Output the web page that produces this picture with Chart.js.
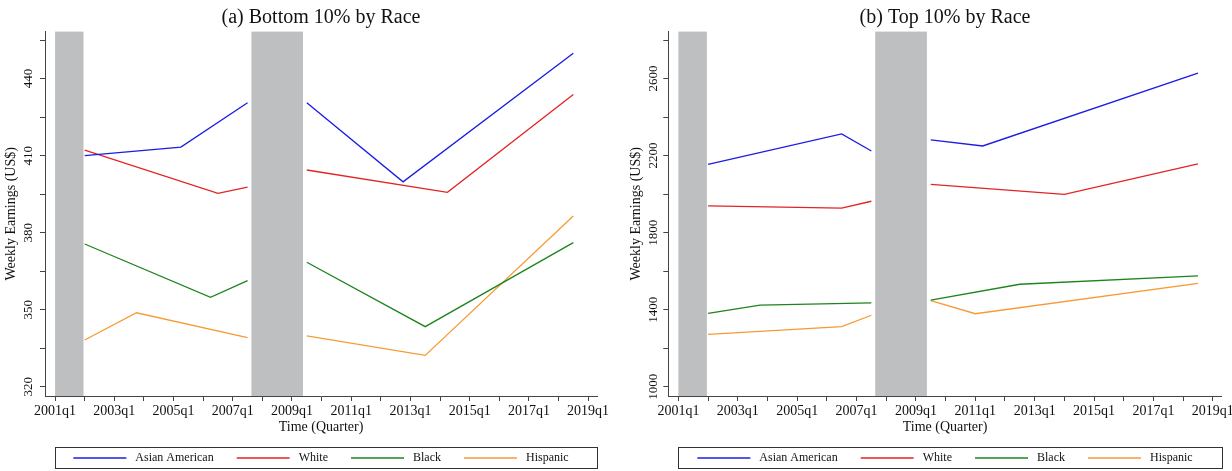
<!DOCTYPE html>
<html>
<head>
<meta charset="utf-8">
<script src="https://cdn.jsdelivr.net/npm/chart.js@4.4.1/dist/chart.umd.min.js"></script>
<style>
  html, body { margin: 0; padding: 0; background: #fff; overflow: hidden; width: 1232px; height: 471px; }
  canvas { position: absolute; top: 0; }
  #bottomChart { left: 0; }
  #topChart { left: 616px; }
</style>
</head>
<body>
<canvas id="bottomChart" width="616" height="471"></canvas>
<canvas id="topChart" width="616" height="471"></canvas>
<script>
// ---- data -------------------------------------------------------------
const seriesNames = ['Asian American', 'White', 'Black', 'Hispanic'];

// Weekly earnings (US$), bottom 10% of each group; null marks the recession break
const bottomAsian    = [['2002q1', 410.0], ['2005q2', 413.3], ['2007q3', 430.6], ['2008q3', null], ['2009q3', 430.6], ['2012q4', 399.8], ['2018q3', 449.9]];
const bottomWhite    = [['2002q1', 412.1], ['2006q3', 395.3], ['2007q3', 397.7], ['2008q3', null], ['2009q3', 404.4], ['2014q2', 395.7], ['2018q3', 433.8]];
const bottomBlack    = [['2002q1', 375.6], ['2006q2', 354.8], ['2007q3', 361.3], ['2008q3', null], ['2009q3', 368.5], ['2013q3', 343.4], ['2018q3', 376.1]];
const bottomHispanic = [['2002q1', 338.2], ['2003q4', 348.8], ['2007q3', 339.1], ['2008q3', null], ['2009q3', 339.8], ['2013q3', 332.2], ['2018q3', 386.5]];

// Weekly earnings (US$), top 10% of each group
const topAsian    = [['2002q1', 2155], ['2006q3', 2313], ['2007q3', 2224], ['2008q3', null], ['2009q3', 2282], ['2011q2', 2250], ['2018q3', 2628]];
const topWhite    = [['2002q1', 1939], ['2006q3', 1927], ['2007q3', 1963], ['2008q3', null], ['2009q3', 2051], ['2014q1', 1999], ['2018q3', 2157]];
const topBlack    = [['2002q1', 1381], ['2003q4', 1424], ['2007q3', 1435], ['2008q3', null], ['2009q3', 1450], ['2012q3', 1532], ['2018q3', 1575]];
const topHispanic = [['2002q1', 1272], ['2006q3', 1312], ['2007q3', 1371], ['2008q3', null], ['2009q3', 1447], ['2011q1', 1379], ['2018q3', 1537]];

// Recession periods (decimal years)
const recessionSpans = [[2001.0, 2001.96], [2007.63, 2009.37]];

// Axis ticks
const yearTicks = [2001, 2002, 2003, 2004, 2005, 2006, 2007, 2008, 2009, 2010,
                   2011, 2012, 2013, 2014, 2015, 2016, 2017, 2018, 2019];
const xTickLabels = ['2001q1', '2003q1', '2005q1', '2007q1', '2009q1',
                     '2011q1', '2013q1', '2015q1', '2017q1', '2019q1'];
const bottomTicks  = [320, 335, 350, 365, 380, 395, 410, 425, 440, 455];
const bottomLabels = [320, 350, 380, 410, 440];
const topTicks  = [1000, 1200, 1400, 1600, 1800, 2000, 2200, 2400, 2600, 2800];
const topLabels = [1000, 1400, 1800, 2200, 2600];

// ---- helpers ----------------------------------------------------------
const lineColors = ['rgb(28,28,228)', 'rgb(226,36,36)', 'rgb(30,132,30)', 'rgb(246,154,52)'];
const ink = '#222';
const serif = "'Liberation Serif', 'Times New Roman', serif";
Chart.defaults.font.family = serif;
Chart.defaults.color = ink;

function quarterToYear(q) {
  const [y, k] = q.split('q');
  return Number(y) + (Number(k) - 1) / 4;
}
function toPoints(series) {
  return series.map(([q, v]) => ({ x: quarterToYear(q), y: v }));
}

// grey bands behind the lines
const recessionBands = {
  id: 'recessionBands',
  beforeDatasetsDraw(chart) {
    const { ctx, chartArea, scales: { x } } = chart;
    ctx.save();
    ctx.fillStyle = '#bebfc1';
    recessionSpans.forEach(([a, b]) => {
      const x1 = x.getPixelForValue(a);
      const x2 = x.getPixelForValue(b);
      ctx.fillRect(x1, chartArea.top, x2 - x1, chartArea.bottom - chartArea.top);
    });
    ctx.restore();
  }
};

// frame around the legend
const legendFrame = {
  id: 'legendFrame',
  afterDraw(chart) {
    const lg = chart.legend;
    if (!lg) return;
    const { ctx, chartArea, scales: { x } } = chart;
    const pad = lg.options.labels.padding;
    const cy = lg.top + pad + 6;
    const left = Math.round(x.getPixelForValue(2001)) + 0.5;
    const right = Math.round(chartArea.right) + 0.5;
    ctx.save();
    ctx.strokeStyle = '#333';
    ctx.lineWidth = 1;
    ctx.strokeRect(left, Math.round(cy - 11) + 0.5, right - left, 21);
    ctx.restore();
  }
};

function makePanel(id, opts) {
  const datasets = opts.series.map((s, i) => ({
    label: seriesNames[i],
    data: toPoints(s),
    borderColor: lineColors[i],
    backgroundColor: lineColors[i],
    borderWidth: 1.3,
    pointRadius: 0,
    tension: 0,
    spanGaps: false
  }));

  return new Chart(document.getElementById(id), {
    type: 'line',
    data: { datasets },
    plugins: [recessionBands, legendFrame],
    options: {
      responsive: false,
      animation: false,
      events: [],
      layout: { padding: { left: 0, right: opts.padRight, top: 0, bottom: -3 } },
      plugins: {
        title: {
          display: true,
          fullSize: false,
          text: opts.title,
          font: { size: 20, weight: 'normal', family: serif },
          color: '#111',
          padding: { top: 5.5, bottom: 2.1 }
        },
        legend: {
          display: true,
          position: 'bottom',
          fullSize: false,
          labels: {
            boxWidth: 53,
            boxHeight: 1.4,
            padding: 23,
            font: { size: 12, family: serif },
            color: '#111',
            generateLabels(chart) {
              return Chart.defaults.plugins.legend.labels.generateLabels(chart).map(l => ({
                ...l,
                text: ' ' + l.text,
                lineWidth: 0,
                fillStyle: l.strokeStyle
              }));
            }
          }
        },
        tooltip: { enabled: false }
      },
      scales: {
        x: {
          type: 'linear',
          min: 2000.66,
          max: 2019.30,
          bounds: 'data',
          afterBuildTicks(s) { s.ticks = yearTicks.map(v => ({ value: v })); },
          afterFit(s) { s.height = 33; s.paddingLeft = 0; s.paddingRight = 0; },
          ticks: {
            autoSkip: false,
            maxRotation: 0,
            padding: 2,
            font: { size: 14, family: serif },
            color: '#111',
            callback(v) {
              const lbl = xTickLabels.find(t => quarterToYear(t) === v);
              return lbl || '';
            }
          },
          grid: { display: true, drawOnChartArea: false, drawTicks: true, tickLength: 5, tickColor: '#444', tickWidth: 1 },
          border: { display: true, color: '#444', width: 1 },
          title: {
            display: true,
            text: 'Time (Quarter)',
            font: { size: 14, family: serif },
            color: '#111',
            padding: { top: 0, bottom: -6.4 }
          }
        },
        y: {
          type: 'linear',
          min: opts.yMin,
          max: opts.yMax,
          bounds: 'data',
          afterBuildTicks(s) { s.ticks = opts.yTicks.map(v => ({ value: v })); },
          afterFit(s) { s.width = opts.yWidth; s.paddingTop = 0; s.paddingBottom = 0; },
          ticks: {
            autoSkip: false,
            minRotation: 90,
            maxRotation: 90,
            crossAlign: 'center',
            padding: opts.yTickPad,
            font: { size: 13, family: serif },
            color: '#111',
            callback(v) { return opts.yLabels.includes(v) ? String(v) : ''; }
          },
          grid: { display: true, drawOnChartArea: false, drawTicks: true, tickLength: 5, tickColor: '#444', tickWidth: 1 },
          border: { display: true, color: '#444', width: 1 },
          title: {
            display: true,
            text: 'Weekly Earnings (US$)',
            font: { size: 14, family: serif },
            color: '#111',
            padding: { top: opts.yTitlePad, bottom: 0 }
          }
        }
      }
    }
  });
}

makePanel('bottomChart', {
  title: '(a) Bottom 10% by Race',
  series: [bottomAsian, bottomWhite, bottomBlack, bottomHispanic],
  yMin: 316.4, yMax: 458.3,
  yTicks: bottomTicks, yLabels: bottomLabels,
  yWidth: 45, yTickPad: 1.2, yTitlePad: 3.3,
  padRight: 19
});

makePanel('topChart', {
  title: '(b) Top 10% by Race',
  series: [topAsian, topWhite, topBlack, topHispanic],
  yMin: 951.7, yMax: 2844,
  yTicks: topTicks, yLabels: topLabels,
  yWidth: 52.3, yTickPad: -3.7, yTitlePad: 12.3,
  padRight: 10.3
});
</script>
</body>
</html>
